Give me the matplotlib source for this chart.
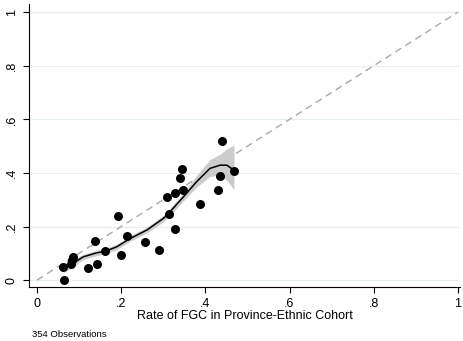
import matplotlib
matplotlib.use('Agg')
import matplotlib.pyplot as plt

plt.rcParams['font.family'] = ['Liberation Sans', 'DejaVu Sans']

# Province-ethnic cohort points
fgc_rate = [0.061, 0.063, 0.080, 0.083, 0.086, 0.122, 0.142, 0.139, 0.162, 0.192,
            0.200, 0.215, 0.257, 0.291, 0.310, 0.314, 0.328, 0.329, 0.340, 0.345,
            0.348, 0.388, 0.429, 0.434, 0.439, 0.468]
outcome = [0.050, 0.000, 0.060, 0.075, 0.088, 0.046, 0.059, 0.147, 0.108, 0.240,
           0.093, 0.165, 0.143, 0.112, 0.309, 0.246, 0.190, 0.326, 0.382, 0.413,
           0.336, 0.284, 0.335, 0.388, 0.520, 0.408]

# Smoothed fit and its confidence band
fit_x = [0.063, 0.083, 0.110, 0.142, 0.162, 0.189, 0.221, 0.261, 0.300, 0.316,
         0.348, 0.379, 0.411, 0.435, 0.451, 0.468]
fit_y = [0.044, 0.060, 0.087, 0.102, 0.108, 0.124, 0.155, 0.187, 0.230, 0.255,
         0.311, 0.367, 0.417, 0.429, 0.429, 0.410]
ci_lo = [0.028, 0.047, 0.077, 0.092, 0.098, 0.114, 0.145, 0.176, 0.218, 0.242,
         0.296, 0.347, 0.387, 0.392, 0.372, 0.338]
ci_hi = [0.060, 0.073, 0.097, 0.112, 0.118, 0.134, 0.165, 0.198, 0.242, 0.268,
         0.326, 0.390, 0.450, 0.470, 0.490, 0.504]

ticks = [0, 0.2, 0.4, 0.6, 0.8, 1]
tick_labels = ['0', '.2', '.4', '.6', '.8', '1']

fig = plt.figure(figsize=(4.63, 3.41), dpi=100)
ax = fig.add_axes([0.0626, 0.158, 0.931, 0.830])

for t in ticks:
    ax.axhline(t, color='#e6eeef', linewidth=0.9, zorder=0)

ax.plot([0, 1], [0, 1], color='#a8a8a8', linewidth=1.0, dashes=(5, 3.5), zorder=1)
ax.fill_between(fit_x, ci_lo, ci_hi, color='#cccccc', linewidth=0, zorder=2)
ax.plot(fit_x, fit_y, color='black', linewidth=1.1, zorder=3)
ax.scatter(fgc_rate, outcome, s=42, color='black', linewidths=0, zorder=4)

ax.set_xlim(-0.019, 1.005)
ax.set_ylim(-0.026, 1.03)
ax.set_xticks(ticks)
ax.set_xticklabels(tick_labels, fontsize=9)
ax.set_yticks(ticks)
ax.set_yticklabels(tick_labels, fontsize=9, rotation=90, va='center')
ax.tick_params(direction='out', length=4, width=0.8)
ax.tick_params(axis='x', pad=4)
ax.tick_params(axis='y', pad=4)
ax.set_xlabel('Rate of FGC in Province-Ethnic Cohort', fontsize=9, labelpad=0)

for spine in ['top', 'right']:
    ax.spines[spine].set_visible(False)
for spine in ['left', 'bottom']:
    ax.spines[spine].set_linewidth(0.8)

fig.text(0.069, 0.012, '354 Observations', fontsize=6.8)

fig.savefig('out.png', dpi=100)
plt.close()
